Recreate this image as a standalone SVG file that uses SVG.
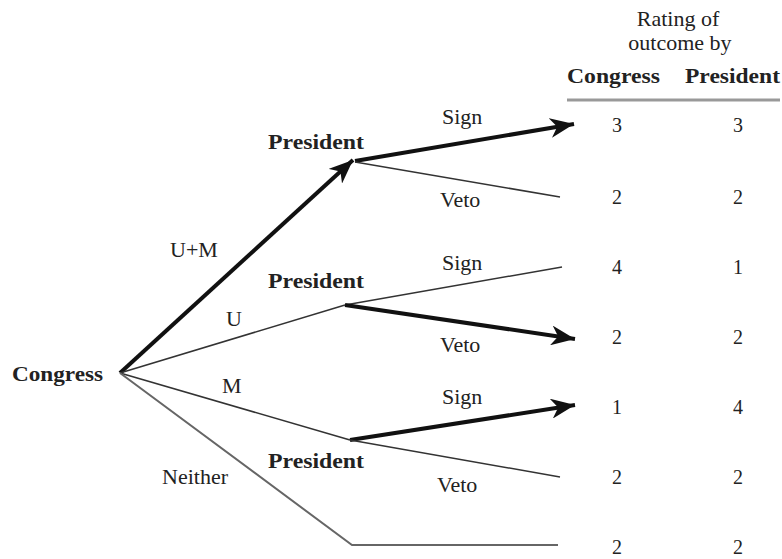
<svg xmlns="http://www.w3.org/2000/svg" width="782" height="559" viewBox="0 0 782 559">
<style>
text{font-family:"Liberation Serif","Times New Roman",serif;fill:#222;}
.lab{font-size:22px;}
.b{font-size:22px;font-weight:bold;}
.num{font-size:20px;text-anchor:middle;}
.thin{stroke:#333;stroke-width:1.5;fill:none;}
.heavy{stroke:#111;stroke-width:4;fill:none;marker-end:url(#ah);}
.gray{stroke:#666;stroke-width:2;fill:none;}
</style>
<defs>
<marker id="ah" markerUnits="userSpaceOnUse" markerWidth="26" markerHeight="20" viewBox="0 0 26 20" refX="24" refY="10" orient="auto">
<path d="M0,0 L24,10 L0,20 L7,10 Z" fill="#111"/>
</marker>
</defs>
<rect width="782" height="559" fill="#fff"/>
<g id="header">
<text class="lab" x="678" y="26" text-anchor="middle">Rating of</text>
<text class="lab" x="680" y="50" text-anchor="middle">outcome by</text>
<text class="b" x="567" y="83" textLength="93" lengthAdjust="spacingAndGlyphs">Congress</text>
<text class="b" x="685" y="83" textLength="95" lengthAdjust="spacingAndGlyphs">President</text>
<line x1="567" y1="100" x2="780" y2="100" stroke="#999" stroke-width="3"/>
</g>
<g id="connectors">
<line class="heavy" x1="120" y1="373" x2="353" y2="160"/>
<line class="thin" x1="120" y1="373" x2="345" y2="305"/>
<line class="thin" x1="120" y1="373" x2="350" y2="440"/>
<polyline class="gray" points="120,373 352,545 558,545"/>
<line class="heavy" x1="355" y1="161" x2="574" y2="124"/>
<line class="thin" x1="355" y1="162" x2="560" y2="197"/>
<line class="thin" x1="345" y1="305" x2="562" y2="267"/>
<line class="heavy" x1="345" y1="305" x2="575" y2="339"/>
<line class="heavy" x1="350" y1="440" x2="575" y2="405"/>
<line class="thin" x1="350" y1="440" x2="560" y2="477"/>
</g>
<g id="congress"><text class="b" x="12" y="381" textLength="91" lengthAdjust="spacingAndGlyphs">Congress</text></g>
<g id="president-top"><text class="b" x="268" y="149" textLength="96" lengthAdjust="spacingAndGlyphs">President</text></g>
<g id="president-mid"><text class="b" x="268" y="288" textLength="96" lengthAdjust="spacingAndGlyphs">President</text></g>
<g id="president-bot"><text class="b" x="268" y="468" textLength="96" lengthAdjust="spacingAndGlyphs">President</text></g>
<g id="edge-labels">
<text class="lab" x="170" y="257">U+M</text>
<text class="lab" x="226" y="326">U</text>
<text class="lab" x="222" y="393">M</text>
<text class="lab" x="162" y="484">Neither</text>
<text class="lab" x="442" y="124">Sign</text>
<text class="lab" x="440" y="207">Veto</text>
<text class="lab" x="442" y="270">Sign</text>
<text class="lab" x="440" y="352">Veto</text>
<text class="lab" x="442" y="404">Sign</text>
<text class="lab" x="437" y="492">Veto</text>
</g>
<g id="outcomes">
<text class="num" x="617" y="132">3</text><text class="num" x="738" y="132">3</text>
<text class="num" x="617" y="204">2</text><text class="num" x="738" y="204">2</text>
<text class="num" x="617" y="274">4</text><text class="num" x="738" y="274">1</text>
<text class="num" x="617" y="344">2</text><text class="num" x="738" y="344">2</text>
<text class="num" x="617" y="414">1</text><text class="num" x="738" y="414">4</text>
<text class="num" x="617" y="484">2</text><text class="num" x="738" y="484">2</text>
<text class="num" x="617" y="554">2</text><text class="num" x="738" y="554">2</text>
</g>
</svg>
